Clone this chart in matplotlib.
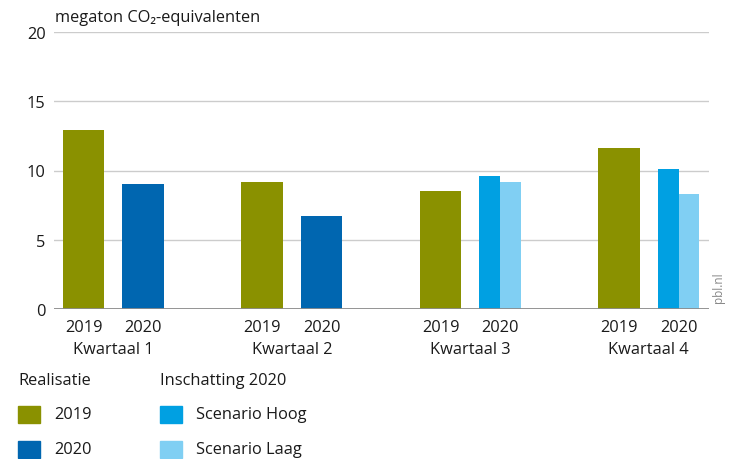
import matplotlib
matplotlib.use("Agg")
import matplotlib.pyplot as plt
from matplotlib.patches import Rectangle
import numpy as np

plt.rcParams['font.family'] = ['Open Sans', 'DejaVu Sans']

# data
kwartalen = ['Kwartaal 1', 'Kwartaal 2', 'Kwartaal 3', 'Kwartaal 4']
jaar_labels = ['2019', '2020']
real_2019 = [12.9, 9.2, 8.5, 11.6]
real_2020 = [9.0, 6.7, None, None]
scen_hoog = [None, None, 9.6, 10.1]
scen_laag = [None, None, 9.2, 8.3]

c_2019 = '#8a9100'
c_2020 = '#0066b0'
c_hoog = '#00a0e2'
c_laag = '#80cff3'
txt = '#1a1a1a'
fs = 11.8

fig = plt.figure(figsize=(7.3, 4.6), dpi=100)
ax = fig.add_axes([54 / 730, 1 - 310 / 460, 655 / 730, 277 / 460])

x = np.arange(len(kwartalen))
off = 0.1667
w = 0.23

ax.bar(x - off, real_2019, w, color=c_2019, zorder=3)
for i in range(len(kwartalen)):
    if real_2020[i] is not None:
        ax.bar(x[i] + off, real_2020[i], w, color=c_2020, zorder=3)
    if scen_hoog[i] is not None:
        ax.bar(x[i] + off - w / 4, scen_hoog[i], w / 2, color=c_hoog, zorder=3)
        ax.bar(x[i] + off + w / 4, scen_laag[i], w / 2, color=c_laag, zorder=3)

ax.set_xlim(-0.332, 3.3375)
ax.set_ylim(0, 20)
ax.set_yticks([0, 5, 10, 15, 20])
ax.grid(axis='y', color='#cccccc', lw=1, zorder=0)
ax.axhline(0, color='#8c8c8c', lw=1.3, zorder=4)
for s in ax.spines.values():
    s.set_visible(False)

ax.tick_params(axis='y', length=0, pad=6, labelsize=fs, labelcolor=txt)

# jaartallen als minor ticks, kwartalen als major ticks
ax.set_xticks(x, kwartalen)
ax.set_xticks(np.concatenate([x - off, x + off]), minor=True)
ax.set_xticklabels(jaar_labels[:1] * 4 + jaar_labels[1:] * 4, minor=True)
ax.tick_params(axis='x', which='minor', length=0, pad=7, labelsize=fs, labelcolor=txt)
ax.tick_params(axis='x', which='major', length=0, pad=23, labelsize=fs, labelcolor=txt)

fig.text(55 / 730, 1 - 18 / 460, 'megaton CO\u2082-equivalenten', fontsize=fs,
         color=txt, va='center', ha='left')
fig.text(718 / 730, 1 - 288 / 460, 'pbl.nl', fontsize=8.5, color='#888888',
         rotation=90, va='center', ha='center')

# legenda
def legend_item(px, py, color, label):
    fig.add_artist(Rectangle((px / 730, 1 - (py + 8.5) / 460), 22 / 730, 17 / 460,
                             transform=fig.transFigure, color=color))
    fig.text((px + 36) / 730, 1 - py / 460, label, fontsize=fs, color=txt,
             va='center', ha='left')

fig.text(18 / 730, 1 - 381 / 460, 'Realisatie', fontsize=fs, color=txt, va='center')
fig.text(160 / 730, 1 - 381 / 460, 'Inschatting 2020', fontsize=fs, color=txt, va='center')
legend_item(18, 415, c_2019, '2019')
legend_item(18, 450, c_2020, '2020')
legend_item(160, 415, c_hoog, 'Scenario Hoog')
legend_item(160, 450, c_laag, 'Scenario Laag')

fig.savefig('out.png', dpi=100)
